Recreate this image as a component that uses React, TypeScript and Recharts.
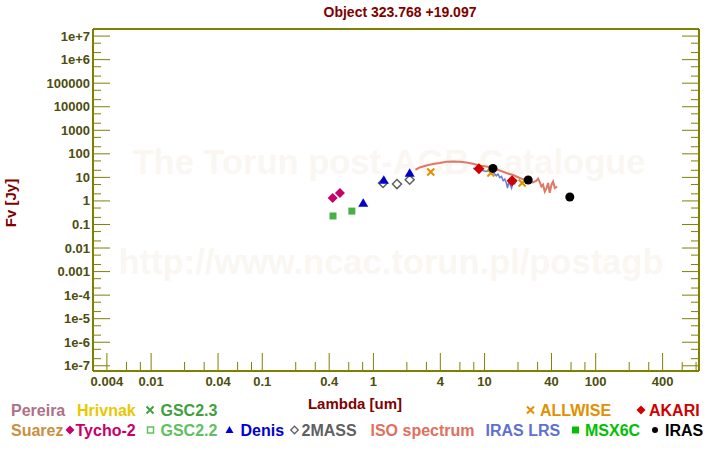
import { Scatter, ScatterChart, XAxis, YAxis } from 'recharts';

const AXIS = '#808000';
const TICK_TEXT = '#4d4d0f';
const DARK_RED = '#800000';
const FONT = '"Liberation Sans", Arial, sans-serif';

// axis ticks
const xMajorTicks = [0.004, 0.01, 0.04, 0.1, 0.4, 1, 4, 10, 40, 100, 400];
const xMinorTicks = [
  0.006, 0.008, 0.02, 0.03, 0.06, 0.08, 0.2, 0.3, 0.6, 0.8, 2, 3, 6, 8, 20, 30, 60, 80, 200, 300, 600, 800,
];
const yMajorTicks = [1e7, 1e6, 1e5, 1e4, 1e3, 100, 10, 1, 0.1, 0.01, 0.001, 1e-4, 1e-5, 1e-6, 1e-7];
const yTickLabels = [
  '1e+7', '1e+6', '100000', '10000', '1000', '100', '10', '1', '0.1', '0.01', '0.001', '1e-4', '1e-5', '1e-6', '1e-7',
];
const yMinorTicks = [
  5e6, 2e6, 5e5, 2e5, 5e4, 2e4, 5e3, 2e3, 500, 200, 50, 20, 5, 2, 0.5, 0.2, 0.05, 0.02, 0.005, 0.002, 5e-4, 2e-4,
  5e-5, 2e-5, 5e-6, 2e-6, 5e-7, 2e-7,
];

// photometry, lambda in um, flux in Jy
const tycho2 = [
  { lambda: 0.43, flux: 1.33 },
  { lambda: 0.5, flux: 2.16 },
];
const gsc22 = [
  { lambda: 0.433, flux: 0.23 },
  { lambda: 0.64, flux: 0.37 },
];
const denis = [
  { lambda: 0.81, flux: 0.8 },
  { lambda: 1.24, flux: 7.6 },
  { lambda: 2.12, flux: 15 },
];
const twoMass = [
  { lambda: 1.22, flux: 5.75 },
  { lambda: 1.63, flux: 5.2 },
  { lambda: 2.12, flux: 7.9 },
];
const allwise = [
  { lambda: 3.28, flux: 16.9 },
  { lambda: 11.4, flux: 15.3 },
  { lambda: 21.8, flux: 5.75 },
];
const akari = [
  { lambda: 8.9, flux: 23.3 },
  { lambda: 17.7, flux: 7.2 },
];
const iras = [
  { lambda: 11.9, flux: 24 },
  { lambda: 24.7, flux: 7.7 },
  { lambda: 58.5, flux: 1.47 },
];

// spectra
const isoSpectrum = [
  { lambda: 2.39, flux: 21.1 },
  { lambda: 2.61, flux: 26.4 },
  { lambda: 3.0, flux: 32.2 },
  { lambda: 3.44, flux: 36.9 },
  { lambda: 3.95, flux: 40.6 },
  { lambda: 4.54, flux: 46.2 },
  { lambda: 5.2, flux: 47.6 },
  { lambda: 5.98, flux: 46.2 },
  { lambda: 6.87, flux: 43.2 },
  { lambda: 7.87, flux: 38 },
  { lambda: 9.06, flux: 32.2 },
  { lambda: 10.4, flux: 29.2 },
  { lambda: 11.9, flux: 24.9 },
  { lambda: 13.7, flux: 19.7 },
  { lambda: 15.7, flux: 15.3 },
  { lambda: 18.1, flux: 12.6 },
  { lambda: 20.7, flux: 9.4 },
  { lambda: 23.8, flux: 7.4 },
  { lambda: 27.3, flux: 6.1 },
  { lambda: 29.3, flux: 7.2 },
  { lambda: 30.3, flux: 8.8 },
  { lambda: 31.4, flux: 6.3 },
  { lambda: 32.5, flux: 4.1 },
  { lambda: 33.6, flux: 4.9 },
  { lambda: 34.8, flux: 2.5 },
  { lambda: 36.1, flux: 3.5 },
  { lambda: 37.3, flux: 5.8 },
  { lambda: 38.6, flux: 2.2 },
  { lambda: 40, flux: 4.9 },
  { lambda: 41.4, flux: 6.7 },
  { lambda: 42.9, flux: 3.5 },
  { lambda: 45, flux: 4.1 },
];
const irasLrs = [
  { lambda: 7.88, flux: 24.5 },
  { lambda: 9.06, flux: 21.1 },
  { lambda: 10.4, flux: 17.9 },
  { lambda: 11.1, flux: 20.5 },
  { lambda: 11.9, flux: 16.9 },
  { lambda: 12.8, flux: 11.7 },
  { lambda: 13.2, flux: 13.9 },
  { lambda: 13.7, flux: 9.7 },
  { lambda: 14.2, flux: 11 },
  { lambda: 14.7, flux: 7.2 },
  { lambda: 15.2, flux: 8.5 },
  { lambda: 15.7, flux: 5.8 },
  { lambda: 16.1, flux: 3.5 },
  { lambda: 16.5, flux: 6.5 },
  { lambda: 17, flux: 4.9 },
  { lambda: 17.5, flux: 3.5 },
  { lambda: 18.1, flux: 6.7 },
  { lambda: 18.7, flux: 5.4 },
  { lambda: 19.4, flux: 7.9 },
];

const legendRow1 = [
  { text: 'Pereira', color: '#b07088', x: 11, mark: '' },
  { text: 'Hrivnak', color: '#e8c800', x: 77, mark: '' },
  { text: 'GSC2.3', color: '#40a040', x: 160.5, mark: 'cross', mx: 150 },
  { text: 'ALLWISE', color: '#e09000', x: 540, mark: 'cross', mx: 530.5 },
  { text: 'AKARI', color: '#d00000', x: 649, mark: 'diamond', mx: 641 },
];
const legendRow2 = [
  { text: 'Suarez', color: '#c89040', x: 11, mark: '' },
  { text: 'Tycho-2', color: '#c8006a', x: 75.5, mark: 'diamond', mx: 70 },
  { text: 'GSC2.2', color: '#60c060', x: 160.5, mark: 'openSquare', mx: 150.5 },
  { text: 'Denis', color: '#0000d0', x: 240.5, mark: 'triangle', mx: 229.5 },
  { text: '2MASS', color: '#606060', x: 301.5, mark: 'openDiamond', mx: 294.5 },
  { text: 'ISO spectrum', color: '#e07060', x: 370.5, mark: '' },
  { text: 'IRAS LRS', color: '#6070d0', x: 485.5, mark: '' },
  { text: 'MSX6C', color: '#00c000', x: 585, mark: 'square', mx: 575.5 },
  { text: 'IRAS', color: '#000000', x: 665, mark: 'dot', mx: 655 },
];

const tickText = { fontFamily: FONT, fontWeight: 700, fontSize: 13, fill: TICK_TEXT };

function BottomTick({ x, y, payload }: any) {
  const major = xMajorTicks.includes(payload.value);
  return (
    <g>
      <line x1={x} x2={x} y1={y} y2={y - (major ? 18 : 9)} stroke={AXIS} />
      {major && (
        <text x={x} y={y + 15} textAnchor="middle" {...tickText}>
          {String(payload.value)}
        </text>
      )}
    </g>
  );
}

function TopTick({ x, y, payload }: any) {
  const major = xMajorTicks.includes(payload.value);
  return <line x1={x} x2={x} y1={y} y2={y + (major ? 18 : 9)} stroke={AXIS} />;
}

function LeftTick({ x, y, payload }: any) {
  const idx = yMajorTicks.indexOf(payload.value);
  const major = idx >= 0;
  return (
    <g>
      <line x1={x} x2={x + (major ? 17 : 8)} y1={y} y2={y} stroke={AXIS} />
      {major && (
        <text x={x - 3} y={y + 4.5} textAnchor="end" {...tickText}>
          {yTickLabels[idx]}
        </text>
      )}
    </g>
  );
}

function RightTick({ x, y, payload }: any) {
  const major = yMajorTicks.includes(payload.value);
  return <line x1={x} x2={x - (major ? 17 : 8)} y1={y} y2={y} stroke={AXIS} />;
}

const none = () => <g />;

const diamondPath = (cx: number, cy: number, r: number) =>
  `M${cx},${cy - r}L${cx + r},${cy}L${cx},${cy + r}L${cx - r},${cy}Z`;
const crossPath = (cx: number, cy: number, r: number) =>
  `M${cx - r},${cy - r}L${cx + r},${cy + r}M${cx + r},${cy - r}L${cx - r},${cy + r}`;

const diamond = (fill: string, r: number) => (p: any) => <path d={diamondPath(p.cx, p.cy, r)} fill={fill} />;
const openDiamond = (p: any) => (
  <path d={diamondPath(p.cx, p.cy, 4.5)} fill="#fff" stroke="#606060" strokeWidth={1.5} />
);
const square = (p: any) => <rect x={p.cx - 3.5} y={p.cy - 3.5} width={7} height={7} fill="#48b048" />;
const triangle = (p: any) => (
  <path d={`M${p.cx},${p.cy - 5}L${p.cx + 5},${p.cy + 3.5}L${p.cx - 5},${p.cy + 3.5}Z`} fill="#0000cc" />
);
const cross = (p: any) => <path d={crossPath(p.cx, p.cy, 3.5)} stroke="#e09000" strokeWidth={2} />;
const dot = (p: any) => <circle cx={p.cx} cy={p.cy} r={4.5} fill="#000" />;

function LegendMark({ mark, x, y, color }: { mark: string; x: number; y: number; color: string }) {
  if (mark === 'cross') return <path d={crossPath(x, y, 3.5)} stroke={color} strokeWidth={2} />;
  if (mark === 'diamond') return <path d={diamondPath(x, y, 4.5)} fill={color} />;
  if (mark === 'openDiamond') return <path d={diamondPath(x, y, 3.8)} fill="none" stroke={color} strokeWidth={1.3} />;
  if (mark === 'openSquare')
    return <rect x={x - 3} y={y - 3} width={6} height={6} fill="none" stroke={color} strokeWidth={1.5} />;
  if (mark === 'square') return <rect x={x - 3.5} y={y - 3.5} width={7} height={7} fill={color} />;
  if (mark === 'triangle') return <path d={`M${x},${y - 4}L${x + 4},${y + 3}L${x - 4},${y + 3}Z`} fill={color} />;
  if (mark === 'dot') return <circle cx={x} cy={y} r={3} fill={color} />;
  return null;
}

export default function App() {
  const legendText = { fontFamily: FONT, fontWeight: 700, fontSize: 16 };
  return (
    <div style={{ position: 'absolute', left: 0, top: 0, width: 720, height: 450, background: '#fff' }}>
      <svg width={720} height={450} style={{ position: 'absolute', left: 0, top: 0 }}>
        <text x={389} y={174} textAnchor="middle" fontFamily={FONT} fontWeight={700} fontSize={34.5} fill="#faf7f2">
          The Torun post-AGB Catalogue
        </text>
        <text x={391} y={274} textAnchor="middle" fontFamily={FONT} fontWeight={700} fontSize={34.5} fill="#faf7f2">
          http://www.ncac.torun.pl/postagb
        </text>
      </svg>
      <div style={{ position: 'absolute', left: 0, top: 0 }}>
        <ScatterChart width={720} height={450} margin={{ top: 0, right: 0, bottom: 0, left: 0 }}>
          <XAxis
            xAxisId="x"
            dataKey="lambda"
            type="number"
            scale="log"
            domain={[0.003, 850]}
            allowDataOverflow
            ticks={[...xMajorTicks, ...xMinorTicks]}
            interval={0}
            height={79}
            tickSize={0}
            tickMargin={0}
            tickLine={false}
            tick={BottomTick}
            axisLine={{ stroke: AXIS, strokeWidth: 2 }}
          />
          <XAxis
            xAxisId="xt"
            orientation="top"
            type="number"
            scale="log"
            domain={[0.003, 850]}
            allowDataOverflow
            ticks={[...xMajorTicks, ...xMinorTicks]}
            interval={0}
            height={29}
            tickSize={0}
            tickMargin={0}
            tickLine={false}
            tick={TopTick}
            axisLine={{ stroke: AXIS, strokeWidth: 2 }}
          />
          <YAxis
            yAxisId="y"
            dataKey="flux"
            type="number"
            scale="log"
            domain={[6e-8, 2e7]}
            allowDataOverflow
            ticks={[...yMajorTicks, ...yMinorTicks]}
            interval={0}
            width={93}
            tickSize={0}
            tickMargin={0}
            tickLine={false}
            tick={LeftTick}
            axisLine={{ stroke: AXIS, strokeWidth: 2 }}
          />
          <YAxis
            yAxisId="yr"
            orientation="right"
            type="number"
            scale="log"
            domain={[6e-8, 2e7]}
            allowDataOverflow
            ticks={[...yMajorTicks, ...yMinorTicks]}
            interval={0}
            width={21}
            tickSize={0}
            tickMargin={0}
            tickLine={false}
            tick={RightTick}
            axisLine={{ stroke: AXIS, strokeWidth: 2 }}
          />
          <Scatter
            xAxisId="x"
            yAxisId="y"
            data={isoSpectrum}
            line={{ stroke: '#e07868', strokeWidth: 2 }}
            shape={none}
            isAnimationActive={false}
          />
          <Scatter
            xAxisId="x"
            yAxisId="y"
            data={irasLrs}
            line={{ stroke: '#6a78d8', strokeWidth: 1.5 }}
            shape={none}
            isAnimationActive={false}
          />
          <Scatter xAxisId="x" yAxisId="y" data={gsc22} shape={square} isAnimationActive={false} />
          <Scatter xAxisId="x" yAxisId="y" data={tycho2} shape={diamond('#c8006a', 5)} isAnimationActive={false} />
          <Scatter xAxisId="x" yAxisId="y" data={twoMass} shape={openDiamond} isAnimationActive={false} />
          <Scatter xAxisId="x" yAxisId="y" data={denis} shape={triangle} isAnimationActive={false} />
          <Scatter xAxisId="x" yAxisId="y" data={allwise} shape={cross} isAnimationActive={false} />
          <Scatter xAxisId="x" yAxisId="y" data={akari} shape={diamond('#d00000', 5.5)} isAnimationActive={false} />
          <Scatter xAxisId="x" yAxisId="y" data={iras} shape={dot} isAnimationActive={false} />
        </ScatterChart>
      </div>
      <svg width={720} height={450} style={{ position: 'absolute', left: 0, top: 0, pointerEvents: 'none' }}>
        <text x={400} y={17} textAnchor="middle" fontFamily={FONT} fontWeight={700} fontSize={14} fill={DARK_RED}>
          Object 323.768 +19.097
        </text>
        <text x={355} y={409} textAnchor="middle" fontFamily={FONT} fontWeight={700} fontSize={15} fill={DARK_RED}>
          Lambda [um]
        </text>
        <text
          x={0}
          y={0}
          transform="translate(16,203) rotate(-90)"
          textAnchor="middle"
          fontFamily={FONT}
          fontWeight={700}
          fontSize={15}
          fill={DARK_RED}
        >
          Fv [Jy]
        </text>
        {legendRow1.map((d) => (
          <g key={d.text}>
            {d.mark && <LegendMark mark={d.mark} x={d.mx ?? 0} y={410} color={d.color} />}
            <text x={d.x} y={416} fill={d.color} {...legendText}>
              {d.text}
            </text>
          </g>
        ))}
        {legendRow2.map((d) => (
          <g key={d.text}>
            {d.mark && <LegendMark mark={d.mark} x={d.mx ?? 0} y={430} color={d.color} />}
            <text x={d.x} y={436} fill={d.color} {...legendText}>
              {d.text}
            </text>
          </g>
        ))}
      </svg>
    </div>
  );
}
